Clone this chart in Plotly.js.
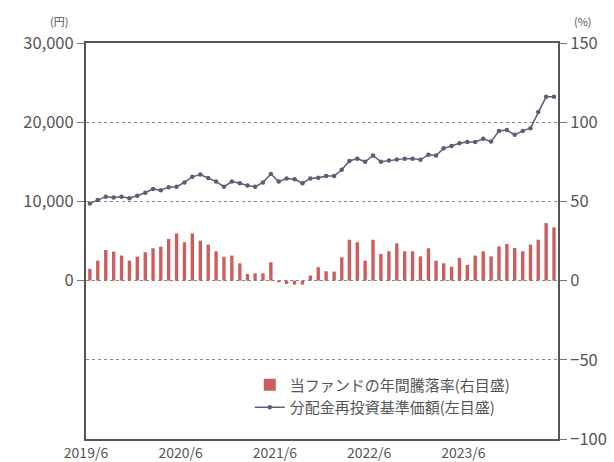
<!DOCTYPE html>
<html>
<head>
<meta charset="utf-8">
<script src="https://cdn.plot.ly/plotly-3.0.1.min.js"></script>
<style>html,body{margin:0;padding:0;background:#fff;}#chart{width:614px;height:462px;}</style>
</head>
<body>
<div id="chart"></div>
<script>
// Months (bars and line points), 2019/6 .. 2024/5
const months = [
  "2019-06","2019-07","2019-08","2019-09","2019-10","2019-11","2019-12",
  "2020-01","2020-02","2020-03","2020-04","2020-05","2020-06","2020-07","2020-08","2020-09","2020-10","2020-11","2020-12",
  "2021-01","2021-02","2021-03","2021-04","2021-05","2021-06","2021-07","2021-08","2021-09","2021-10","2021-11","2021-12",
  "2022-01","2022-02","2022-03","2022-04","2022-05","2022-06","2022-07","2022-08","2022-09","2022-10","2022-11","2022-12",
  "2023-01","2023-02","2023-03","2023-04","2023-05","2023-06","2023-07","2023-08","2023-09","2023-10","2023-11","2023-12",
  "2024-01","2024-02","2024-03","2024-04","2024-05"
];
// Annual return of the fund (%), right axis
const annualReturn = [
  7.4,12.6,19.3,18.3,15.8,12.6,15.1,17.9,20.4,21.4,26.3,29.8,
  24.2,29.8,25.2,22.7,18.5,15.1,15.8,10.9,4.2,4.6,4.6,11.6,
  -1.0,-2.1,-2.5,-2.5,3.2,8.4,5.9,5.7,14.7,25.8,24.2,12.6,
  25.8,16.8,18.5,23.5,18.5,18.5,15.3,20.4,12.6,10.9,8.8,14.3,
  9.9,15.8,18.5,15.3,21.6,23.1,20.6,18.5,22.7,25.8,36.3,33.6
];
// NAV with dividends reinvested (yen), left axis
const navReinvested = [
  9750,10170,10600,10500,10600,10400,10700,11100,11550,11400,11800,11850,
  12400,13100,13400,12950,12500,11850,12500,12300,12000,11850,12400,13450,
  12500,12900,12800,12300,12900,13000,13200,13200,14000,15100,15400,15000,
  15800,15000,15150,15300,15400,15400,15250,15900,15800,16700,17000,17350,
  17500,17500,17900,17550,18900,19000,18400,18900,19250,21300,23200,23200
];
const xTickVals = ["2019-06-01","2020-06-01","2021-06-01","2022-06-01","2023-06-01"];
const xTickText = ["2019/6","2020/6","2021/6","2022/6","2023/6"];
const leftTicks = [0,10000,20000,30000];
const rightTicks = [-100,-50,0,50,100,150];
const barName = "当ファンドの年間騰落率(右目盛)";
const lineName = "分配金再投資基準価額(左目盛)";

const FONT = "'Noto Sans CJK JP', 'Noto Sans', sans-serif";
const xRange = ["2019-06-01","2024-06-01"];

const traces = [
  {
    type: "bar", name: barName, x: months, y: annualReturn,
    xperiod: "M1", xperiodalignment: "middle",
    yaxis: "y2", width: 1000*3600*24*13,
    marker: {color: "#cd5c5c", line: {width: 0}}
  },
  {
    type: "scatter", mode: "lines+markers", name: lineName, x: months, y: navReinvested,
    xperiod: "M1", xperiodalignment: "middle",
    yaxis: "y",
    line: {color: "#5a5f78", width: 1.5},
    marker: {color: "#5a5f78", size: 4.5}
  }
];

const layout = {
  width: 614, height: 462,
  margin: {l: 86, r: 56, t: 43, b: 23},
  paper_bgcolor: "#fff", plot_bgcolor: "#fff",
  font: {family: FONT, color: "#555", size: 16},
  showlegend: true,
  legend: {
    x: 0.347, y: 0.178, xanchor: "left", yanchor: "top",
    traceorder: "normal", bgcolor: "rgba(0,0,0,0)",
    font: {size: 15, color: "#555", family: FONT},
    tracegroupgap: 0, itemwidth: 30
  },
  xaxis: {
    type: "date", range: xRange,
    tickvals: xTickVals, ticktext: xTickText,
    showgrid: false, zeroline: false,
    showline: true, linecolor: "#555", linewidth: 2, mirror: true,
    ticks: "", ticklabelstandoff: 0, tickfont: {size: 14, color: "#555"}
  },
  yaxis: {
    range: [-20000, 30000], tickvals: leftTicks, tickformat: ",d",
    showgrid: false, zeroline: false,
    showline: true, linecolor: "#555", linewidth: 2,
    ticks: "outside", ticklen: 7, tickcolor: "#777",
    tickfont: {size: 16.5, color: "#555"}
  },
  yaxis2: {
    range: [-100, 150], tickvals: rightTicks, overlaying: "y", side: "right",
    showgrid: true, gridcolor: "#888", griddash: "dot", gridwidth: 1,
    zeroline: false,
    showline: true, linecolor: "#555", linewidth: 2,
    ticks: "outside", ticklen: 7, tickcolor: "#777",
    tickfont: {size: 16.5, color: "#555"}
  },
  annotations: [
    {text: "(円)", xref: "paper", yref: "paper", x: -0.034, y: 1.0, xanchor: "right", yanchor: "bottom",
     yshift: 12, showarrow: false, font: {size: 11, color: "#555"}},
    {text: "(%)", xref: "paper", yref: "paper", x: 1.0, y: 1.0, xanchor: "left", yanchor: "bottom",
     xshift: 14, yshift: 12, showarrow: false, font: {size: 11, color: "#555"}}
  ]
};

Plotly.newPlot("chart", traces, layout, {displayModeBar: false, staticPlot: true});
</script>
</body>
</html>
